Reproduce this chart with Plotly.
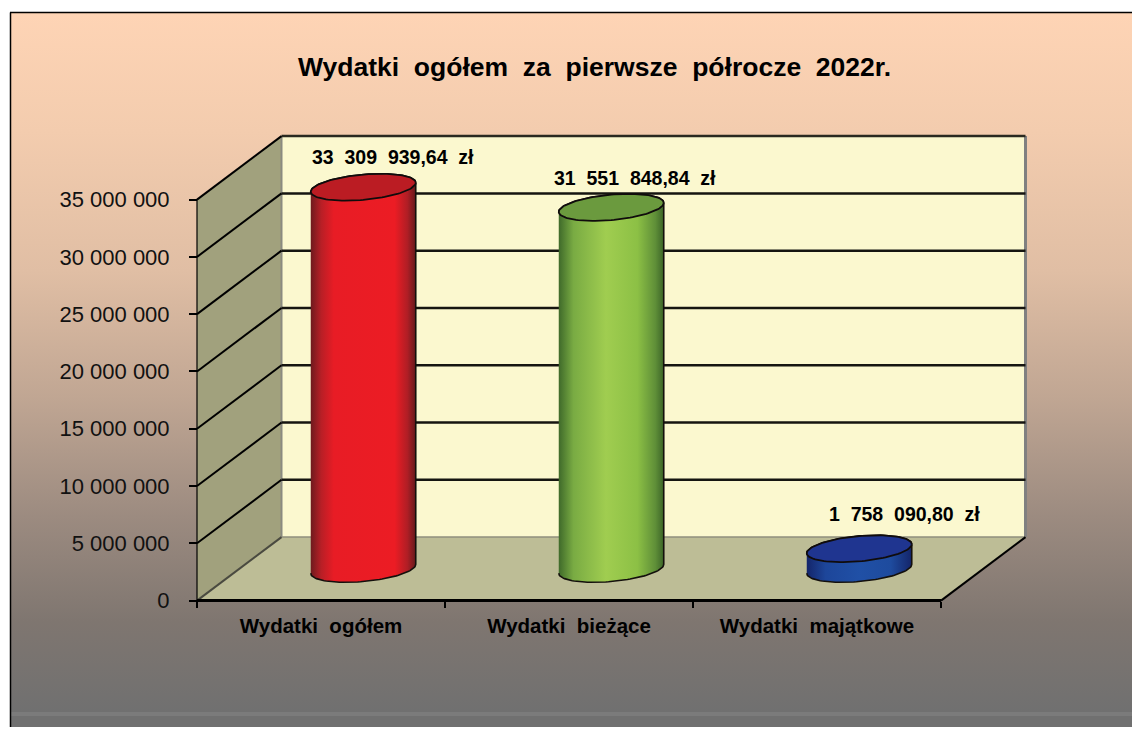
import numpy as np
import plotly.graph_objects as go

# ---- data ----
categories = ["Wydatki\u00a0\u00a0ogółem", "Wydatki\u00a0\u00a0bieżące", "Wydatki\u00a0\u00a0majątkowe"]
values = [33309939.64, 31551848.84, 1758090.80]
value_labels = ["33\u00a0\u00a0309\u00a0\u00a0939,64\u00a0\u00a0zł", "31\u00a0\u00a0551\u00a0\u00a0848,84\u00a0\u00a0zł", "1\u00a0\u00a0758\u00a0\u00a0090,80\u00a0\u00a0zł"]
y_ticks = [0, 5000000, 10000000, 15000000, 20000000, 25000000, 30000000, 35000000]
y_ticklabels = ["0", "5 000 000", "10 000 000", "15 000 000", "20 000 000", "25 000 000", "30 000 000", "35 000 000"]
title_text = "Wydatki\u00a0\u00a0ogółem\u00a0\u00a0za\u00a0\u00a0pierwsze\u00a0\u00a0półrocze\u00a0\u00a02022r."

# ---- styles ----
body_scales = [
    [[0, "#6e1a1e"], [0.1, "#b81f26"], [0.22, "#e81c25"], [0.8, "#ec1c24"], [0.92, "#b01e25"], [1, "#651a1c"]],
    [[0, "#3f6a2a"], [0.14, "#79ab43"], [0.45, "#a0cd50"], [0.75, "#8cc045"], [0.92, "#5f8f38"], [1, "#3c6528"]],
    [[0, "#14256a"], [0.18, "#1d469a"], [0.5, "#2050a6"], [0.8, "#1e4b9e"], [1, "#14256a"]],
]
top_colors = ["#bb1c23", "#6b9a3e", "#1f3590"]
label_shift = [(30, 30), (24, 29), (45, 35)]
bg_scale = [[0, "#fed4b5"], [0.17, "#f3ccae"], [0.37, "#e0bea4"], [0.55, "#c0a693"],
            [0.72, "#9c8b80"], [0.87, "#7f7670"], [1, "#707070"]]

W, H = 1132, 729
X0_PX, UNIT_PX = 197.0, 248.0          # left of the floor's front edge, width of a category
Y0_PX, PX_PER_VAL = 600.6, 401.0 / 35e6  # zero of the front plane, scale


def xpx(p):
    return (p - X0_PX) / UNIT_PX


def ypx(p):
    return (Y0_PX - p) / PX_PER_VAL


x_range = [xpx(0), xpx(W)]
y_range = [ypx(H), ypx(0)]

DX = 84.5 / UNIT_PX
DY = 63.5 / PX_PER_VAL
TOP = y_ticks[-1]
N = len(categories)

fig = go.Figure()


def line(xs, ys, color="#000000", width=2):
    fig.add_trace(go.Scatter(x=xs, y=ys, mode="lines", line=dict(color=color, width=width),
                             hoverinfo="skip", showlegend=False))


def poly(xs, ys, fill, lw=0, lc="rgba(0,0,0,0)"):
    fig.add_trace(go.Scatter(x=xs, y=ys, mode="lines", fill="toself", fillcolor=fill,
                             line=dict(color=lc, width=lw), hoverinfo="skip", showlegend=False))


# page background
fig.add_trace(go.Scatter(
    x=[xpx(10), xpx(W + 2), xpx(W + 2), xpx(10), xpx(10)],
    y=[ypx(13), ypx(13), ypx(712), ypx(712), ypx(13)],
    mode="lines", line=dict(width=0), fill="toself", hoverinfo="skip", showlegend=False,
    fillgradient=dict(type="vertical", colorscale=bg_scale, start=ypx(13), stop=ypx(712)),
))
poly([xpx(10), xpx(W + 2), xpx(W + 2), xpx(10)], [ypx(712), ypx(712), ypx(716), ypx(716)], "#7b7b7b")
poly([xpx(10), xpx(W + 2), xpx(W + 2), xpx(10)], [ypx(716), ypx(716), ypx(727), ypx(727)], "#707070")
line([xpx(10.5), xpx(10.5)], [ypx(727), ypx(12.5)], "#000000", 1.5)
line([xpx(10), xpx(W + 2)], [ypx(12.5), ypx(12.5)], "#000000", 1.5)

# walls and floor
poly([DX, N + DX, N + DX, DX], [DY, DY, TOP + DY, TOP + DY], "#fbf8cf")
poly([0, DX, DX, 0], [0, DY, TOP + DY, TOP], "#a1a17d")
poly([0, N, N + DX, DX], [0, 0, DY, DY], "#bdbd96")

# wall edges
line([DX, DX], [DY, TOP + DY], "#8a8a80", 2)
line([N + DX, N + DX], [DY, TOP + DY], "#808080", 3)
line([DX, N + DX], [DY, DY], "#8f8f7c", 1.5)
line([DX, N + DX], [TOP + DY, TOP + DY], "#2a2a20", 2.5)

# gridlines
for t in y_ticks[1:-1]:
    line([DX, N + DX], [t + DY, t + DY], "#151510", 2.5)
for t in y_ticks[1:]:
    line([0, DX], [t, t + DY], "#000000", 2)
line([0, DX], [0, DY], "#4a4a40", 2)

# front frame
line([0, 0], [0, TOP], "#000000", 1.2)
line([N, N + DX], [0, DY], "#000000", 2)
line([0, N], [0, 0], "#000000", 3)

# cylinders
RX = 52.5 / UNIT_PX
RY = 12.7 / PX_PER_VAL
TILT = 4.5 / PX_PER_VAL
t_all = np.linspace(0, 2 * np.pi, 121)
t_low = np.linspace(np.pi, 2 * np.pi, 61)
t_up = np.linspace(0, np.pi, 61)

for i, (val, scale, top) in enumerate(zip(values, body_scales, top_colors)):
    cx = i + 0.5 + DX / 2
    cy = DY / 2

    def ell(t, base):
        return cx + RX * np.cos(t), base + TILT * np.cos(t) + RY * np.sin(t)

    bx, by = ell(t_low, cy)
    ux, uy = ell(t_up, cy + val)
    fig.add_trace(go.Scatter(
        x=np.r_[bx, ux], y=np.r_[by, uy], mode="lines", fill="toself",
        line=dict(color="#14100c", width=1.6), hoverinfo="skip", showlegend=False,
        fillgradient=dict(type="horizontal", colorscale=scale),
    ))
    ex, ey = ell(t_all, cy + val)
    poly(ex, ey, top, 1.8, "#100c0c")

annotations = []
for i, (val, lab, (sx, sy)) in enumerate(zip(values, value_labels, label_shift)):
    annotations.append(dict(
        x=i + 0.5 + DX / 2, y=DY / 2 + val, xref="x", yref="y", text="<b>%s</b>" % lab,
        showarrow=False, xshift=sx, yshift=sy, xanchor="center", yanchor="middle",
        font=dict(family="Liberation Sans", size=19.5, color="#000000"),
    ))

fig.update_layout(
    width=W, height=H, autosize=False,
    margin=dict(l=0, r=0, t=0, b=0),
    paper_bgcolor="#ffffff", plot_bgcolor="rgba(0,0,0,0)",
    showlegend=False,
    title=dict(text="<b>%s</b>" % title_text, x=594.5 / W, xanchor="center", y=1 - 67 / H, yanchor="middle",
               font=dict(family="Liberation Sans", size=26.5, color="#000000")),
    annotations=annotations,
    xaxis=dict(range=x_range, anchor="free", position=1 - Y0_PX / H, showgrid=False, zeroline=False,
               showline=False, tickmode="array", tickvals=[i + 0.5 for i in range(N)], ticktext=categories,
               ticks="", ticklabelstandoff=11,
               tickfont=dict(family="Liberation Sans", size=20.5, color="#000000", weight="bold"),
               minor=dict(tickmode="array", tickvals=list(range(N + 1)), ticks="outside", ticklen=6,
                          tickwidth=2, tickcolor="#000000", showgrid=False)),
    yaxis=dict(range=y_range, anchor="free", position=X0_PX / W, showgrid=False, zeroline=False,
               showline=False, tickmode="array", tickvals=y_ticks, ticktext=y_ticklabels,
               ticks="outside", ticklen=8, tickwidth=2, tickcolor="#000000", ticklabelstandoff=15,
               tickfont=dict(family="Liberation Sans", size=22, color="#111111")),
)

fig.write_html("out.html", config=dict(displayModeBar=False),
               post_script="document.body.style.margin='0';document.body.style.overflow='hidden';")
